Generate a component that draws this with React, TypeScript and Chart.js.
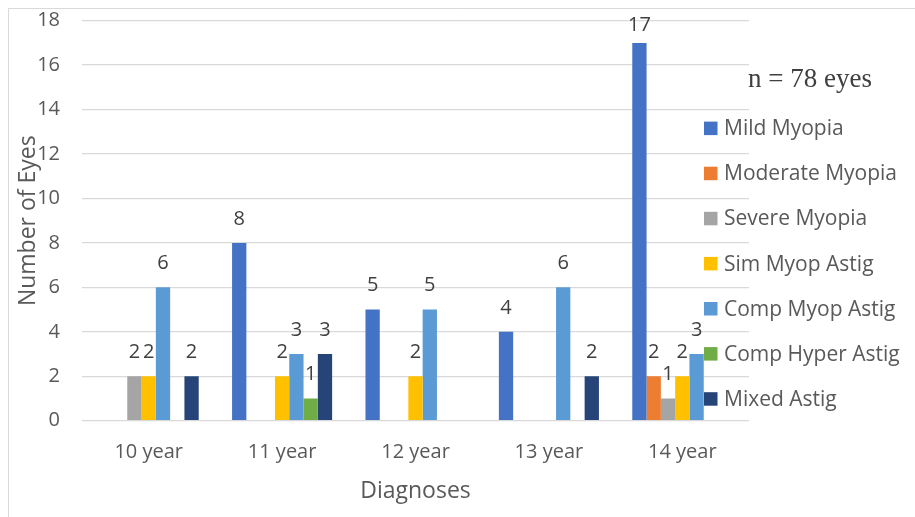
import React, { useEffect, useRef } from "react";
import { Chart, registerables } from "chart.js";

Chart.register(...registerables);

const categories = ["10 year", "11 year", "12 year", "13 year", "14 year"];
const seriesNames = [
  "Mild Myopia",
  "Moderate Myopia",
  "Severe Myopia",
  "Sim Myop Astig",
  "Comp Myop Astig",
  "Comp Hyper Astig",
  "Mixed Astig",
];
const mildMyopia = [0, 8, 5, 4, 17];
const moderateMyopia = [0, 0, 0, 0, 2];
const severeMyopia = [2, 0, 0, 0, 1];
const simMyopAstig = [2, 2, 2, 0, 2];
const compMyopAstig = [6, 3, 5, 6, 3];
const compHyperAstig = [0, 1, 0, 0, 0];
const mixedAstig = [2, 3, 0, 2, 0];
const yTickValues = [0, 2, 4, 6, 8, 10, 12, 14, 16, 18];
const seriesColors = ["#4472C4", "#ED7D31", "#A5A5A5", "#FFC000", "#5B9BD5", "#70AD47", "#264478"];
const noteText = "n = 78 eyes";
const xTitle = "Diagnoses";
const yTitle = "Number of Eyes";

const FONT = "'Open Sans', 'Noto Sans', sans-serif";

const decorPlugin = {
  id: "decor",
  beforeDraw(chart: any) {
    const ctx = chart.ctx;
    ctx.save();
    ctx.fillStyle = "#ffffff";
    ctx.fillRect(0, 0, chart.width, chart.height);
    ctx.strokeStyle = "#D9D9D9";
    ctx.lineWidth = 1;
    ctx.beginPath();
    ctx.moveTo(8.5, chart.height + 2);
    ctx.lineTo(8.5, 8.5);
    ctx.lineTo(chart.width + 2, 8.5);
    ctx.stroke();
    ctx.restore();
  },
  afterDatasetsDraw(chart: any) {
    const ctx = chart.ctx;
    const area = chart.chartArea;
    ctx.save();
    ctx.font = `20px ${FONT}`;
    ctx.fillStyle = "#404040";
    ctx.textAlign = "center";
    ctx.textBaseline = "middle";
    chart.data.datasets.forEach((ds: any, di: number) => {
      const meta = chart.getDatasetMeta(di);
      meta.data.forEach((bar: any, i: number) => {
        const v = ds.data[i];
        if (!v) return;
        const y = Math.max(bar.y - 24, area.top + 5);
        ctx.fillText(String(v), bar.x, y);
      });
    });
    ctx.restore();
  },
  afterDraw(chart: any) {
    const ctx = chart.ctx;
    const area = chart.chartArea;
    ctx.save();
    // legend
    ctx.font = `21px ${FONT}`;
    ctx.textAlign = "left";
    ctx.textBaseline = "middle";
    chart.data.datasets.forEach((ds: any, i: number) => {
      const cy = 128.3 + i * 45.1;
      ctx.fillStyle = ds.backgroundColor;
      ctx.fillRect(704, cy - 6.7, 13.5, 13.5);
      ctx.fillStyle = "#595959";
      ctx.fillText(ds.label, 724, cy + 1);
    });
    // axis titles
    ctx.fillStyle = "#595959";
    ctx.font = `23px ${FONT}`;
    ctx.textAlign = "center";
    ctx.textBaseline = "alphabetic";
    ctx.fillText(xTitle, (area.left + area.right) / 2, 498);
    ctx.save();
    ctx.translate(35, (area.top + area.bottom) / 2);
    ctx.rotate(-Math.PI / 2);
    ctx.fillText(yTitle, 0, 0);
    ctx.restore();
    // note
    ctx.fillStyle = "#404040";
    ctx.font = `27px 'Liberation Serif', 'Times New Roman', serif`;
    ctx.textAlign = "left";
    ctx.fillText(noteText, 748, 86.7);
    ctx.restore();
  },
};

export default function App() {
  const ref = useRef<HTMLCanvasElement | null>(null);
  useEffect(() => {
    if (!ref.current) return;
    const datasetsValues = [
      mildMyopia,
      moderateMyopia,
      severeMyopia,
      simMyopAstig,
      compMyopAstig,
      compHyperAstig,
      mixedAstig,
    ];
    const chart = new Chart(ref.current, {
      type: "bar",
      data: {
        labels: categories,
        datasets: datasetsValues.map((d, i) => ({
          label: seriesNames[i],
          data: d,
          backgroundColor: seriesColors[i],
          borderWidth: 0,
          categoryPercentage: 0.75,
          barPercentage: 1,
        })),
      },
      options: {
        animation: false,
        responsive: false,
        maintainAspectRatio: false,
        layout: { padding: { left: 0, top: 20.7, right: 166, bottom: 36.3 } },
        plugins: { legend: { display: false }, tooltip: { enabled: false }, title: { display: false } },
        scales: {
          x: {
            grid: { display: false, drawTicks: false },
            border: { display: false },
            ticks: { color: "#595959", font: { family: FONT, size: 20 }, padding: 20, maxRotation: 0 },
            afterFit: (s: any) => {
              s.height = 60;
            },
          },
          y: {
            min: yTickValues[0],
            max: yTickValues[yTickValues.length - 1],
            afterBuildTicks: (s: any) => {
              s.ticks = yTickValues.map((v) => ({ value: v }));
            },
            grid: { color: "#D9D9D9", lineWidth: 1.3, drawTicks: false },
            border: { display: false },
            ticks: { color: "#595959", font: { family: FONT, size: 20 }, padding: 22 },
            afterFit: (s: any) => {
              s.width = 82;
              s.paddingTop = 0;
              s.paddingBottom = 0;
            },
          },
        },
      },
      plugins: [decorPlugin],
    });
    return () => chart.destroy();
  }, []);
  return (
    <div style={{ position: "fixed", left: 0, top: 0, width: 915, height: 517 }}>
      <canvas ref={ref} width={915} height={517} style={{ display: "block", width: 915, height: 517 }} />
    </div>
  );
}
